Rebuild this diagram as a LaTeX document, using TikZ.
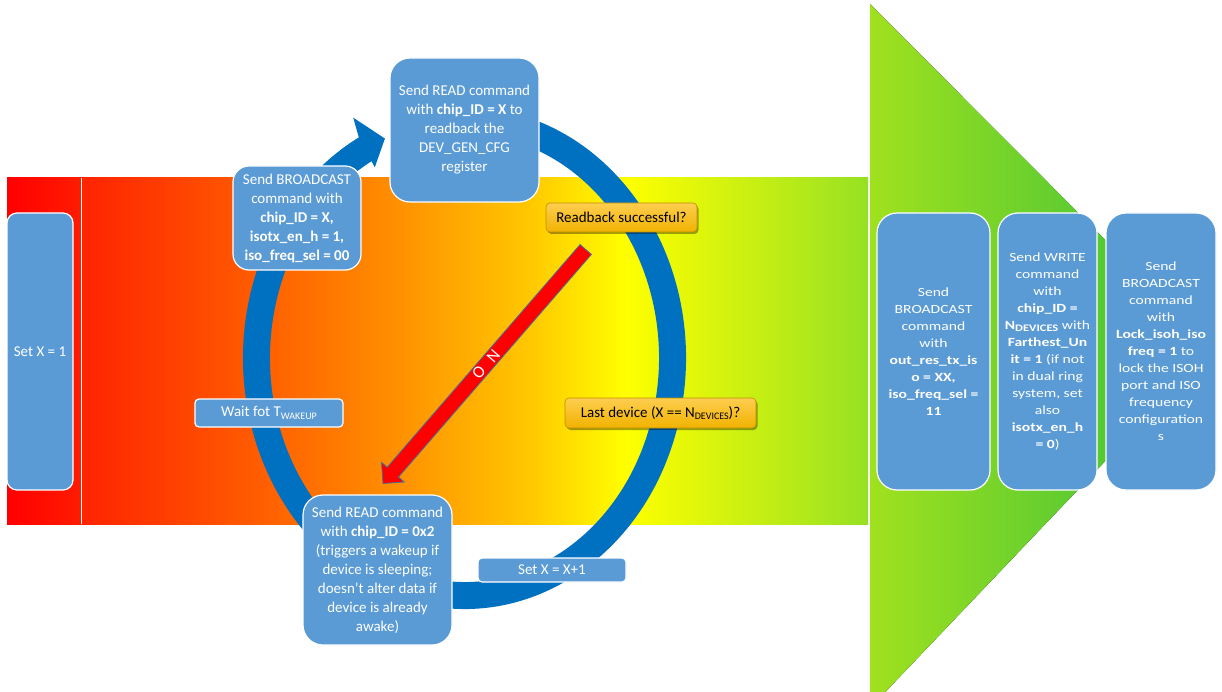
\documentclass[tikz,border=0pt]{standalone}
\usepackage{fontspec}
\setmainfont{Carlito}
\newfontfamily\widefont[FakeStretch=1.25]{Carlito}
\usetikzlibrary{shadows,calc}
\definecolor{boxblue}{RGB}{91,155,213}
\definecolor{ringblue}{RGB}{0,112,192}
\definecolor{arrowedge}{RGB}{65,113,156}
\definecolor{decTop}{RGB}{255,206,80}
\definecolor{decBot}{RGB}{240,178,0}
\definecolor{decEdge}{RGB}{191,144,0}
\definecolor{bA}{RGB}{255,0,0}
\definecolor{bB}{RGB}{255,28,0}
\definecolor{bC}{RGB}{255,35,0}
\definecolor{bD}{RGB}{255,90,0}
\definecolor{bE}{RGB}{255,145,0}
\definecolor{bF}{RGB}{255,200,0}
\definecolor{bG}{RGB}{255,255,0}
\definecolor{bH}{RGB}{150,225,35}
\definecolor{tA}{RGB}{160,225,30}
\definecolor{tB}{RGB}{50,190,60}
\newcommand\mysub[1]{\raisebox{-0.35ex}{\fontsize{10}{10}\selectfont #1}}
\begin{document}
\begin{tikzpicture}[x=1pt,y=-1pt,
  bluebox/.style={draw=white, line width=1.2pt, fill=boxblue, text=white, align=center, inner sep=1pt, font=\fontsize{15}{19}\selectfont},
  widebox/.style={bluebox, rounded corners=20pt, minimum height=277pt, font=\widefont\fontsize{12.5}{17}\selectfont},
  decbox/.style={draw=decEdge, line width=0.6pt, top color=decTop, bottom color=decBot, rounded corners=4pt, align=center, inner sep=1pt, text=black, font=\fontsize{15}{19}\selectfont, drop shadow={shadow xshift=1.5pt, shadow yshift=-2pt, fill=black, opacity=0.35}},
  ]
\useasboundingbox (0,0) rectangle (1222,692);
\clip (0,0) rectangle (1222,692);
% background band
\fill[left color=bA, right color=bB] (7,178) rectangle (81,524);
\fill[left color=bC, right color=bD] (81,178) rectangle (250.6,524);
\fill[left color=bD, right color=bE] (250,178) rectangle (400.6,524);
\fill[left color=bE, right color=bF] (400,178) rectangle (530.6,524);
\fill[left color=bF, right color=bG] (530,178) rectangle (625.6,524);
\fill[left color=bG, right color=bH] (625,178) rectangle (868,524);
\draw[white, line width=1pt] (81,178) -- (81,524);
% big arrow head
\fill[left color=tA, right color=tB] (870,4) -- (1213,348) -- (870,708) -- cycle;
% circular arrow
\coordinate (rc) at (464.5,358);
\draw[ringblue, line width=27pt] ($(rc)+(-75:208 and 237.5)$) arc[start angle=-75, end angle=242, x radius=208, y radius=237.5];
\fill[ringblue] ($(rc)+(241.5:221.5 and 251)$) -- ($(rc)+(242.5:241 and 271)$) -- ($(rc)+(247.5:208 and 237.5)$) -- ($(rc)+(241.5:188 and 217)$) -- cycle;
% red NO arrow
\coordinate (notail) at (585.7,249.5);
\coordinate (notip) at (383,483.5);
\coordinate (nob) at ($(notip)!15pt!(notail)$);
\filldraw[fill=red, draw=arrowedge, line width=0.8pt, line join=miter]
  ($(notail)!7.5pt!90:(notip)$) -- ($(nob)!7.5pt!-90:(notail)$) -- ($(nob)!15pt!-90:(notail)$) -- (notip)
  -- ($(nob)!15pt!90:(notail)$) -- ($(nob)!7.5pt!90:(notail)$) -- ($(notail)!7.5pt!-90:(notip)$) -- cycle;
\node[text=white, rotate=229, font=\fontsize{17}{17}\selectfont, inner sep=0pt] (nolabel) at (486,364.5) {N\hspace{11pt}O};
% boxes
\node[bluebox, minimum width=66pt, minimum height=277pt, rounded corners=10pt] (setone) at (40,351.5) {Set X = 1};
\node[bluebox, minimum width=149pt, minimum height=144pt, rounded corners=20pt] (readx) at (464.5,130) {Send READ command\\with \textbf{chip\_ID = X} to\\readback the\\DEV\_GEN\_CFG\\register};
\node[bluebox, minimum width=128pt, minimum height=104pt, rounded corners=16pt] (bcast) at (297,218) {Send BROADCAST\\command with\\\textbf{chip\_ID = X,}\\\textbf{isotx\_en\_h = 1,}\\\textbf{iso\_freq\_sel = 00}};
\node[decbox, minimum width=151pt, minimum height=29pt] (rbok) at (621.5,217.5) {Readback successful?};
\node[decbox, minimum width=191pt, minimum height=30pt] (lastdev) at (660.5,413) {Last device (X == N\mysub{DEVICES})?};
\node[bluebox, minimum width=148pt, minimum height=28pt, rounded corners=4pt] (wait) at (269,413) {Wait fot T\mysub{WAKEUP}};
\node[bluebox, minimum width=149pt, minimum height=150pt, rounded corners=20pt] (readtwo) at (377.5,570) {Send READ command\\with \textbf{chip\_ID = 0x2}\\(triggers a wakeup if\\device is sleeping;\\doesn’t alter data if\\device is already\\awake)};
\node[bluebox, minimum width=148pt, minimum height=24pt, rounded corners=4pt] (incx) at (552,570) {Set X = X+1};
\node[widebox, minimum width=113pt] (boxa) at (933.5,351.5) {Send\\BROADCAST\\command\\with\\\textbf{out\_res\_tx\_is}\\\textbf{o = XX,}\\\textbf{iso\_freq\_sel =}\\\textbf{11}};
\node[widebox, minimum width=99pt] (boxb) at (1047.5,351.5) {Send WRITE\\command\\with\\\textbf{chip\_ID =}\\\textbf{N\mysub{DEVICES}} with\\\textbf{Farthest\_Un}\\\textbf{it = 1} (if not\\in dual ring\\system, set\\also\\\textbf{isotx\_en\_h}\\\textbf{= 0})};
\node[widebox, minimum width=110pt] (boxc) at (1161,351.5) {Send\\BROADCAST\\command\\with\\\textbf{Lock\_isoh\_iso}\\\textbf{freq = 1} to\\lock the ISOH\\port and ISO\\frequency\\configuration\\s};
\end{tikzpicture}
\end{document}
